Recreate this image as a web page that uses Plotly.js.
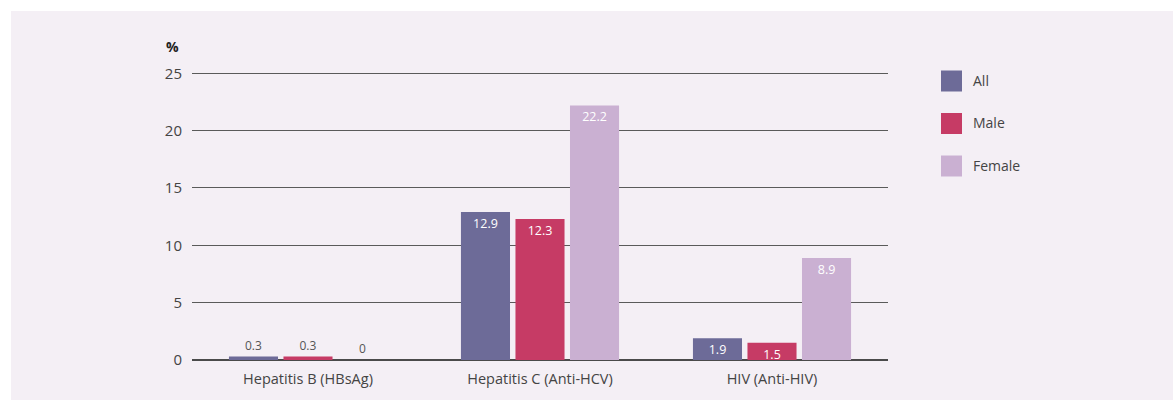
<!DOCTYPE html>
<html>
<head>
<meta charset="utf-8">
<script src="https://cdn.plot.ly/plotly-3.0.1.min.js"></script>
<style>
  html, body { margin: 0; padding: 0; background: #ffffff; }
  #chart { position: absolute; left: 11px; top: 11px; width: 1162px; height: 389px; }
</style>
</head>
<body>
<div id="chart"></div>
<script>
// Prevalence of infection markers by sex (%)
const categories = ['Hepatitis B (HBsAg)', 'Hepatitis C (Anti-HCV)', 'HIV (Anti-HIV)'];
const seriesNames = ['All', 'Male', 'Female'];
const allValues = [0.3, 12.9, 1.9];
const maleValues = [0.3, 12.3, 1.5];
const femaleValues = [0, 22.2, 8.9];
const yTicks = [0, 5, 10, 15, 20, 25];
const colors = ['#6d6b98', '#c63b65', '#cab0d2'];

const W = 1162, H = 389;
const margin = { l: 181, r: 285, t: 60, b: 40 };
const plotW = W - margin.l - margin.r;
const plotH = H - margin.t - margin.b;
const font = '"Open Sans", "Noto Sans", sans-serif';

function makeTrace(name, values, color) {
  return {
    type: 'bar',
    name: name,
    x: categories,
    y: values,
    marker: { color: color, line: { width: 0 } },
    text: values.map(v => String(v)),
    textposition: values.map(v => (v < 1 ? 'outside' : 'inside')),
    insidetextanchor: 'end',
    insidetextfont: { family: font, size: 12.5, color: '#ffffff' },
    outsidetextfont: { family: font, size: 12, color: '#555555' },
    textangle: 0,
    cliponaxis: false,
    constraintext: 'none',
    hoverinfo: 'skip'
  };
}

const traces = [
  makeTrace(seriesNames[0], allValues, colors[0]),
  makeTrace(seriesNames[1], maleValues, colors[1]),
  makeTrace(seriesNames[2], femaleValues, colors[2])
];

// pixel (within the figure) -> paper fraction of the plot area
const px = x => (x - margin.l) / plotW;
const py = y => 1 - (y - margin.t) / plotH;

const shapes = [];
const annotations = [
  {
    text: '<b>%</b>', xref: 'paper', yref: 'paper',
    x: px(161), y: py(35), xanchor: 'center', yanchor: 'middle',
    showarrow: false, font: { family: font, size: 14, color: '#222222' }
  }
];

// Legend: square swatches with labels to the right of the plot
seriesNames.forEach((name, i) => {
  const cy = 70 + i * 42.5;
  shapes.push({
    type: 'rect', xref: 'paper', yref: 'paper',
    x0: px(930), x1: px(951), y0: py(cy - 10.5), y1: py(cy + 10.5),
    fillcolor: colors[i], line: { width: 0 }
  });
  annotations.push({
    text: name, xref: 'paper', yref: 'paper',
    x: px(960), y: py(cy - 1), xanchor: 'left', yanchor: 'middle',
    showarrow: false, font: { family: font, size: 14, color: '#444444' }
  });
});

const layout = {
  width: W, height: H,
  margin: margin,
  paper_bgcolor: '#f4eff5',
  plot_bgcolor: '#f4eff5',
  showlegend: false,
  barmode: 'group',
  bargap: 0.295,
  bargroupgap: 0.1,
  font: { family: font, size: 14, color: '#444444' },
  xaxis: {
    type: 'category',
    showgrid: false, zeroline: false, showline: false,
    ticks: 'outside', ticklen: 6, tickcolor: 'rgba(0,0,0,0)',
    tickfont: { family: font, size: 14.5, color: '#444444' }
  },
  yaxis: {
    range: [0, 25.2],
    tickvals: yTicks,
    ticktext: yTicks.map(String),
    showgrid: true, gridcolor: '#5a5a5a', gridwidth: 1,
    zeroline: true, zerolinecolor: '#4a4a4a', zerolinewidth: 1.5,
    showline: false,
    ticks: 'outside', ticklen: 6, tickcolor: 'rgba(0,0,0,0)',
    tickfont: { family: font, size: 15, color: '#444444' },
    fixedrange: true
  },
  shapes: shapes,
  annotations: annotations
};

Plotly.newPlot('chart', traces, layout, { staticPlot: true, displayModeBar: false });
</script>
</body>
</html>
